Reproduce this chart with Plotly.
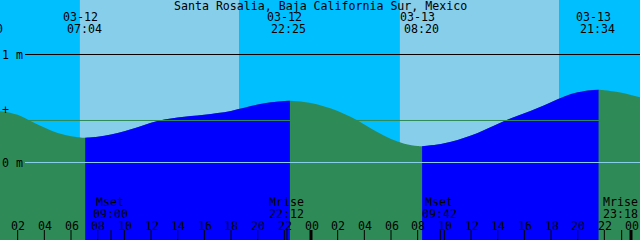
import plotly.graph_objects as go

# ---------------- data ----------------
title = "Santa Rosalia, Baja California Sur, Mexico"

# tide height (m), sampled every hour from 03-12 00:00
curve_hours = list(range(0, 50))
curve_heights = [0.479, 0.471, 0.441, 0.381, 0.323, 0.272, 0.244, 0.229, 0.238, 0.259,
                 0.290, 0.327, 0.368, 0.398, 0.417, 0.430, 0.442, 0.458, 0.478, 0.506,
                 0.536, 0.557, 0.569, 0.566, 0.550, 0.519, 0.478, 0.421, 0.353, 0.279,
                 0.217, 0.174, 0.153, 0.159, 0.179, 0.208, 0.249, 0.301, 0.356, 0.410,
                 0.456, 0.505, 0.559, 0.612, 0.650, 0.670, 0.669, 0.652, 0.626, 0.593]

# high / low tides
extreme_dates = ["03-11", "03-12", "03-12", "03-13", "03-13"]
extreme_times = ["23:40", "07:04", "22:25", "08:20", "21:34"]
extreme_heights = [0.481, 0.229, 0.571, 0.151, 0.673]
extreme_kinds = ["high", "low", "high", "low", "high"]

# sun
sun_dates = ["03-12", "03-13"]
sunrise_times = ["06:40", "06:40"]
sunset_times = ["18:36", "18:36"]

# moon
moon_dates = ["03-12", "03-12", "03-13", "03-13"]
moon_times = ["09:00", "22:12", "09:42", "23:18"]
moon_names = ["Mset", "Mrise", "Mset", "Mrise"]

# hour ticks
hour_ticks = list(range(2, 49, 2))
hour_tick_labels = ["%02d" % (h % 24) for h in hour_ticks]

# reference levels (m)
level_marks = [1.0, 0.0]
level_labels = ["1 m", "0 m"]
mean_level = 0.389
now_level = 0.488

# ---------------- style ----------------
NIGHT = "#00BFFF"
DAY = "#87CEEB"
FLOOD = "#0000FF"
EBB = "#2E8B57"
FONT = dict(family="DejaVu Sans Mono", size=11.6, color="black")
W, H = 640, 240
PX_PER_H = 320 / 24
X0 = -9.0                       # pixel of 03-12 00:00
PX_PER_M = 108
Y_TOP = 1 + 54.5 / PX_PER_M     # metres at top edge
X_RANGE = [(0 - X0) / PX_PER_H, (W - X0) / PX_PER_H]
Y_RANGE = [Y_TOP - H / PX_PER_M, Y_TOP]
BASE = Y_RANGE[0] - 0.3


def to_hours(date, hm):
    day = int(date.split("-")[1])
    h, m = map(int, hm.split(":"))
    return (day - 12) * 24 + h + m / 60


def py(px):
    return 1 - px / H


def px_of_hours(t):
    # paper fraction for an hour value (lets labels sit partly off-page)
    return (t - X_RANGE[0]) / (X_RANGE[1] - X_RANGE[0])


ext_t = [to_hours(d, t) for d, t in zip(extreme_dates, extreme_times)]

pts = sorted(list(zip(curve_hours, curve_heights)) + list(zip(ext_t, extreme_heights)))
pts = [p for p in pts if p[0] >= ext_t[0]]

fig = go.Figure()


def add_fill(seg, color):
    xs = [p[0] for p in seg]
    ys = [p[1] for p in seg]
    fig.add_trace(go.Scatter(x=[xs[0], xs[-1]], y=[BASE, BASE], mode="lines",
                             line=dict(width=0), hoverinfo="skip"))
    fig.add_trace(go.Scatter(x=xs, y=ys, mode="lines", fill="tonexty",
                             fillcolor=color, line=dict(width=0, shape="spline", color=color),
                             hoverinfo="skip"))


# ebb (whole curve), then flood segments on top
add_fill(pts, EBB)
for i, kind in enumerate(extreme_kinds[:-1]):
    if kind == "low":
        seg = [p for p in pts if ext_t[i] <= p[0] <= ext_t[i + 1]]
        add_fill(seg, FLOOD)

shapes = []
# daylight
for d, sr, ss in zip(sun_dates, sunrise_times, sunset_times):
    shapes.append(dict(type="rect", xref="x", yref="paper", x0=to_hours(d, sr), x1=to_hours(d, ss),
                       y0=0, y1=1, fillcolor=DAY, line=dict(width=0), layer="below"))
# level lines
line_x0 = 25 / W
shapes.append(dict(type="line", xref="paper", yref="y", x0=line_x0, x1=1, y0=mean_level, y1=mean_level,
                   line=dict(color=EBB, width=1), layer="above"))
shapes.append(dict(type="line", xref="paper", yref="y", x0=line_x0, x1=1, y0=level_marks[1], y1=level_marks[1],
                   line=dict(color=DAY, width=1), layer="above"))
shapes.append(dict(type="line", xref="paper", yref="y", x0=line_x0, x1=1, y0=level_marks[0], y1=level_marks[0],
                   line=dict(color="black", width=1), layer="above"))
# hour ticks
for h in hour_ticks:
    shapes.append(dict(type="line", xref="x", yref="paper", x0=h, x1=h, y0=0, y1=10 / H,
                       line=dict(color="black", width=3 if h % 24 == 0 else 1), layer="above"))
# moon ticks
for d, t in zip(moon_dates, moon_times):
    mt = to_hours(d, t)
    shapes.append(dict(type="line", xref="x", yref="paper", x0=mt, x1=mt, y0=0, y1=10 / H,
                       line=dict(color="black", width=1), layer="above"))

ann = []


def text(t, y, s, xanchor="center", xshift=0):
    ann.append(dict(x=px_of_hours(t), y=y, xref="paper", yref="paper", text=s, showarrow=False,
                    font=FONT, xanchor=xanchor, yanchor="middle", xshift=xshift))


ann.append(dict(x=0.5, y=py(6), xref="paper", yref="paper", text=title, showarrow=False,
                font=FONT, xanchor="center", yanchor="middle"))
for t, d, hm in zip(ext_t, extreme_dates, extreme_times):
    text(t, py(17.5), d, xshift=-5)
    text(t, py(29.2), hm, xshift=-1)
for d, hm, name in zip(moon_dates, moon_times, moon_names):
    mt = to_hours(d, hm)
    text(mt, py(201.5), name, xshift=-1)
    text(mt, py(213.5), hm, xshift=-1)
for h, lab in zip(hour_ticks, hour_tick_labels):
    text(h, py(225.5), lab, xshift=0.5)
for lv, lab in zip(level_marks, level_labels):
    ann.append(dict(x=0, y=lv, xref="paper", yref="y", text=lab, showarrow=False, font=FONT,
                    xanchor="left", yanchor="middle"))
ann.append(dict(x=0, y=now_level, xref="paper", yref="y", text="+", showarrow=False, font=FONT,
                xanchor="left", yanchor="middle"))

fig.update_layout(
    width=W, height=H, autosize=False,
    margin=dict(l=0, r=0, t=0, b=0),
    paper_bgcolor=NIGHT, plot_bgcolor=NIGHT,
    showlegend=False,
    xaxis=dict(range=X_RANGE, visible=False, fixedrange=True),
    yaxis=dict(range=Y_RANGE, visible=False, fixedrange=True),
    shapes=shapes, annotations=ann,
)

fig.write_html("out.html", config={"displayModeBar": False})
